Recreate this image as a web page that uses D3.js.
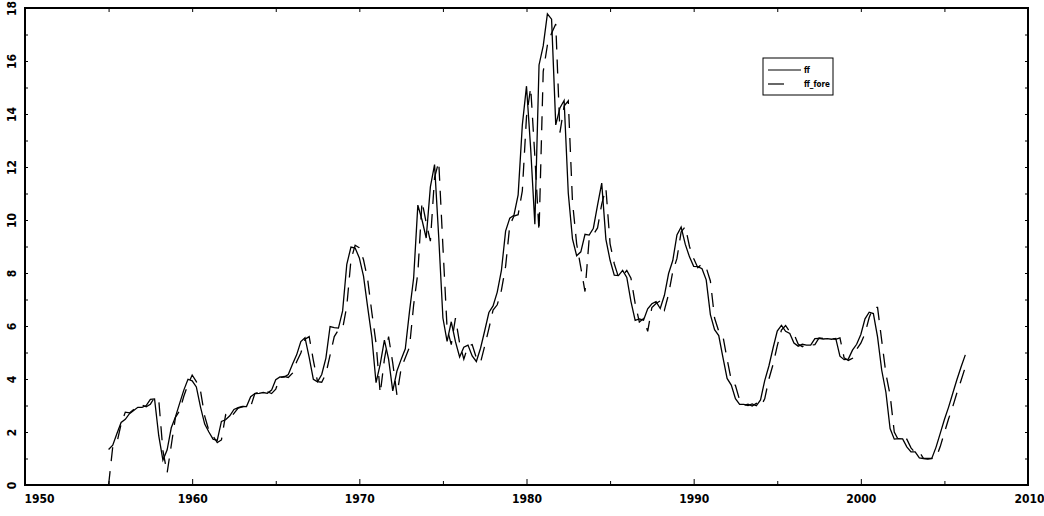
<!DOCTYPE html>
<html>
<head>
<meta charset="utf-8">
<script src="https://cdn.jsdelivr.net/npm/d3@7"></script>
<style>
  body { margin: 0; background: #fff; }
  text { font-family: 'Liberation Sans Narrow', 'DejaVu Sans Condensed', Arial, sans-serif; font-weight: bold; }
</style>
</head>
<body>
<div id="viz"></div>
<script>
// quarterly data, first quarter = 1955 Q1
const firstYear = 1955
const seriesNames = ['ff', 'ff_fore']

const ff = [
  1.34, 1.50, 1.94, 2.36,  2.48, 2.69, 2.81, 2.93,  2.93, 3.00, 3.23, 3.25,
  1.86, 0.94, 1.32, 2.16,  2.57, 3.08, 3.58, 3.99,  3.93, 3.70, 2.94, 2.30,
  2.00, 1.73, 1.68, 2.40,  2.46, 2.61, 2.85, 2.92,  2.97, 2.96, 3.33, 3.45,
  3.46, 3.49, 3.46, 3.58,  3.97, 4.08, 4.07, 4.17,  4.56, 4.91, 5.41, 5.56,
  4.82, 3.99, 3.89, 4.17,  4.79, 5.98, 5.94, 5.92,  6.57, 8.33, 8.98, 8.94,
  8.57, 7.88, 6.70, 5.57,  3.86, 4.56, 5.47, 4.75,  3.55, 4.30, 4.74, 5.14,
  6.54, 7.82, 10.56, 10.00, 9.32, 11.25, 12.09, 9.35, 6.30, 5.42, 6.16, 5.41,
  4.83, 5.20, 5.28, 4.87,  4.66, 5.16, 5.82, 6.51,  6.76, 7.28, 8.10, 9.58,
  10.07, 10.18, 10.95, 13.58, 15.05, 12.69, 9.84, 15.85, 16.57, 17.78, 17.58, 13.59,
  14.23, 14.51, 11.01, 9.29, 8.65, 8.80, 9.46, 9.43,  9.69, 10.56, 11.39, 9.27,
  8.48, 7.92, 7.90, 8.10,  7.83, 6.92, 6.21, 6.27,  6.22, 6.65, 6.84, 6.92,
  6.66, 7.16, 7.98, 8.47,  9.44, 9.73, 9.08, 8.61,  8.25, 8.24, 8.16, 7.74,
  6.43, 5.86, 5.64, 4.82,  4.02, 3.77, 3.26, 3.04,  3.04, 3.00, 3.06, 2.99,
  3.21, 3.94, 4.49, 5.17,  5.81, 6.02, 5.80, 5.72,  5.36, 5.24, 5.31, 5.28,
  5.28, 5.52, 5.53, 5.51,  5.52, 5.50, 5.53, 4.86,  4.73, 4.75, 5.09, 5.31,
  5.68, 6.27, 6.52, 6.47,  5.59, 4.33, 3.50, 2.13,  1.73, 1.75, 1.74, 1.44,
  1.25, 1.25, 1.02, 1.00,  1.00, 1.01, 1.43, 1.95,  2.47, 2.94, 3.46, 3.98,
  4.46, 4.91
]

const ffFore = [
  0.00, 1.45, 1.60, 2.30,  2.75, 2.72, 2.85, 2.95,  3.02, 2.95, 3.05, 3.30,
  3.22, 1.30, 0.45, 1.50,  2.55, 2.80, 3.35, 3.80,  4.15, 3.90, 3.55, 2.60,
  2.05, 1.85, 1.60, 1.70,  2.65, 2.50, 2.70, 2.90,  2.95, 3.00, 2.96, 3.45,
  3.50, 3.48, 3.52, 3.45,  3.62, 4.05, 4.10, 4.06,  4.22, 4.65, 4.98, 5.50,
  5.60, 4.70, 3.90, 3.88,  4.20, 4.90, 5.60, 5.85,  5.90, 6.75, 8.50, 9.05,
  8.95, 8.50, 7.75, 6.50,  5.35, 3.45, 4.75, 5.60,  4.60, 3.40, 4.40, 4.80,
  5.20, 6.80, 8.00, 10.70, 9.90, 9.20, 11.60, 12.20, 9.00, 5.90, 5.30, 6.30,
  5.35, 4.75, 5.25, 5.30,  4.80, 4.62, 5.25, 5.90,  6.60, 6.80, 7.35, 8.25,
  9.80, 10.15, 10.20, 11.10, 13.90, 15.00, 12.40, 9.55, 15.60, 16.60, 17.05, 17.40,
  13.30, 14.30, 14.50, 10.70, 9.10, 8.20, 7.30, 9.30, 9.45, 9.70, 10.60, 11.20,
  9.10, 8.35, 7.85, 7.90,  8.10, 7.80, 6.85, 6.15,  6.28, 5.80, 6.70, 6.85,
  6.95, 6.60, 7.20, 8.05,  8.55, 9.55, 9.75, 9.00,  8.55, 8.20, 8.35, 8.20,
  7.70, 6.30, 5.80, 5.62,  4.75, 3.95, 3.75, 3.20,  3.00, 3.05, 2.98, 3.08,
  2.95, 3.25, 4.00, 4.55,  5.25, 5.85, 6.02, 5.78,  5.70, 5.32, 5.22, 5.32,
  5.27, 5.30, 5.55, 5.53,  5.50, 5.52, 5.50, 5.55,  4.80, 4.70, 4.78, 5.12,
  5.35, 5.72, 6.32, 6.72,  6.70, 5.45, 4.20, 3.40,  2.00, 1.70, 1.76, 1.73,
  1.40, 1.22, 1.25, 1.00,  0.98, 1.00, 1.02, 1.45,  1.98, 2.50, 2.96, 3.48,
  3.95, 4.45
]

const xTicks = [1950, 1960, 1970, 1980, 1990, 2000, 2010]
const xMinor = [1955, 1965, 1975, 1985, 1995, 2005]
const yTicks = [0, 2, 4, 6, 8, 10, 12, 14, 16, 18]
const yMinor = [1, 3, 5, 7, 9, 11, 13, 15, 17]

const w = 1044
const h = 516
const pL = 25, pR = 1028, pT = 8, pB = 485

var svg = d3.select('#viz')
  .append('svg')
  .attr('width', w)
  .attr('height', h)

var x = d3.scaleLinear().domain([1950, 2010]).range([pL, pR])
var y = d3.scaleLinear().domain([0, 18]).range([pB, pT])

// quarter -> decimal year
var toPoints = vals => vals.map((v, i) => ({t: firstYear + i / 4, v: v}))

// x axis (bottom, ticks pointing in)
var xAxis = svg.append('g')
  .attr('transform', 'translate(0,' + pB + ')')
  .call(d3.axisBottom(x).tickValues(xTicks).tickFormat(d3.format('d')).tickSize(-6).tickPadding(9))
xAxis.select('.domain').remove()
xAxis.selectAll('text').style('font-size', '12px').attr('fill', '#000')
xAxis.selectAll('.tick text').filter(d => d == 1950).attr('text-anchor', 'start').attr('x', -1)
xAxis.selectAll('.tick text').filter(d => d == 2010).attr('text-anchor', 'end').attr('x', 16)

svg.append('g')
  .attr('transform', 'translate(0,' + pB + ')')
  .call(d3.axisBottom(x).tickValues(xMinor).tickFormat('').tickSize(-4))
  .select('.domain').remove()

// top ticks
svg.append('g')
  .attr('transform', 'translate(0,' + pT + ')')
  .call(d3.axisTop(x).tickValues(xTicks.concat(xMinor)).tickFormat('').tickSize(-4))
  .select('.domain').remove()

// y axis (left, rotated labels)
var yAxis = svg.append('g')
  .attr('transform', 'translate(' + pL + ',0)')
  .call(d3.axisLeft(y).tickValues(yTicks).tickSize(-3))
yAxis.select('.domain').remove()
yAxis.selectAll('text')
  .style('font-size', '12px')
  .attr('fill', '#000')
  .attr('x', 0)
  .attr('dy', '0.36em')
  .attr('text-anchor', 'middle')
  .attr('transform', 'translate(-13,0) rotate(-90)')

svg.append('g')
  .attr('transform', 'translate(' + pL + ',0)')
  .call(d3.axisLeft(y).tickValues(yMinor).tickFormat('').tickSize(-3))
  .select('.domain').remove()

// right ticks
svg.append('g')
  .attr('transform', 'translate(' + pR + ',0)')
  .call(d3.axisRight(y).tickValues(yTicks.concat(yMinor)).tickFormat('').tickSize(-3))
  .select('.domain').remove()

// frame
svg.append('rect')
  .attr('x', pL)
  .attr('y', pT)
  .attr('width', pR - pL)
  .attr('height', pB - pT)
  .attr('fill', 'none')
  .attr('stroke', '#000')
  .attr('stroke-width', 2)

var line = d3.line().x(d => x(d.t)).y(d => y(d.v))

svg.append('path')
  .datum(toPoints(ff))
  .attr('d', line)
  .attr('fill', 'none')
  .attr('stroke', '#000')
  .attr('stroke-width', 1.3)

svg.append('path')
  .datum(toPoints(ffFore))
  .attr('d', line)
  .attr('fill', 'none')
  .attr('stroke', '#000')
  .attr('stroke-width', 1.3)
  .attr('stroke-dasharray', '14,10')

// legend
var lg = svg.append('g').attr('transform', 'translate(763,58)')
lg.append('rect')
  .attr('width', 70)
  .attr('height', 37)
  .attr('fill', '#fff')
  .attr('stroke', '#000')
  .attr('stroke-width', 1)

seriesNames.forEach((name, i) => {
  lg.append('line')
    .attr('x1', 5).attr('x2', 38)
    .attr('y1', 12 + i * 14).attr('y2', 12 + i * 14)
    .attr('stroke', '#000')
    .attr('stroke-width', 1.2)
    .attr('stroke-dasharray', i == 1 ? '16,30' : null)
  lg.append('text')
    .attr('x', 41)
    .attr('y', 15 + i * 14)
    .style('font-size', '8px')
    .text(name)
})
</script>
</body>
</html>
